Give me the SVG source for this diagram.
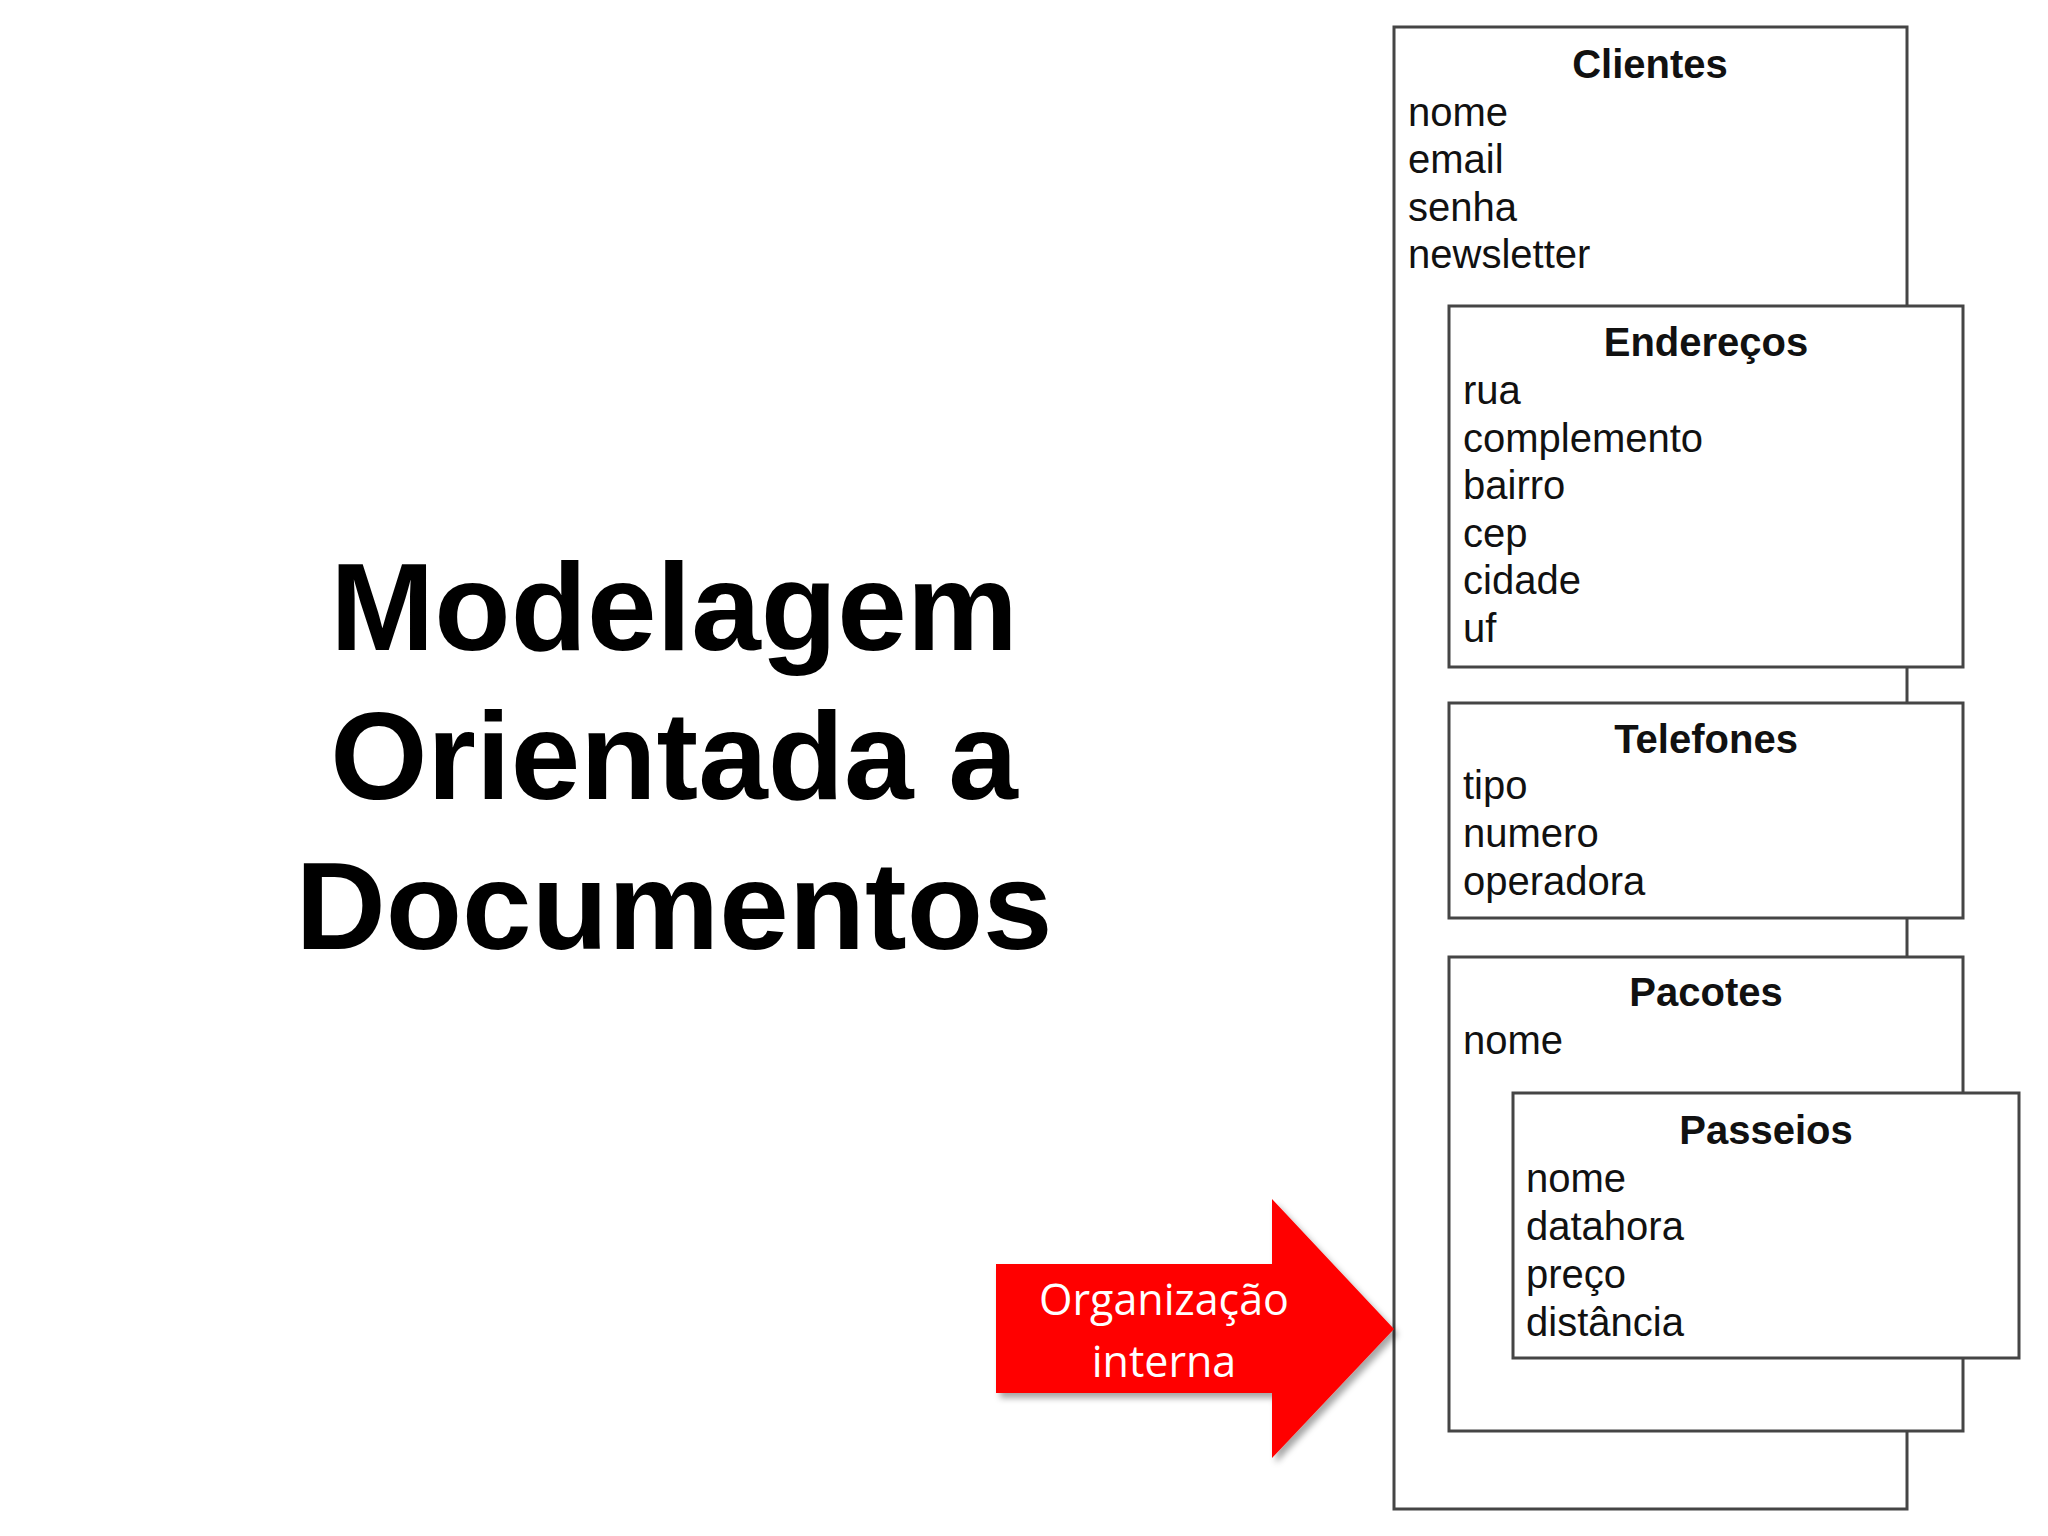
<svg xmlns="http://www.w3.org/2000/svg" width="2048" height="1536" viewBox="0 0 2048 1536">
<defs>
<style>
.box{fill:#ffffff;stroke:#454545;stroke-width:3}
.ttl{font-family:"Liberation Sans",Arial,sans-serif;font-weight:bold;font-size:40px;fill:#111;text-anchor:middle}
.att{font-family:"Liberation Sans",Arial,sans-serif;font-size:40px;fill:#111}
.big{font-family:"Liberation Sans",Arial,sans-serif;font-weight:bold;font-size:125px;fill:#000;text-anchor:middle}
.lbl{font-family:"Open Sans","Liberation Sans",sans-serif;font-size:43px;fill:#ffffff;text-anchor:middle}
</style>
<filter id="shadow" x="-10%" y="-10%" width="125%" height="125%">
<feDropShadow dx="4" dy="5" stdDeviation="3" flood-color="#000" flood-opacity="0.35"/>
</filter>
</defs>
<rect width="2048" height="1536" fill="#ffffff"/>

<g id="title">
<text class="big" x="674" y="650">Modelagem</text>
<text class="big" x="674" y="799">Orientada a</text>
<text class="big" x="674" y="949">Documentos</text>
</g>

<g id="clientes">
<rect class="box" x="1394" y="27" width="513" height="1482"/>
<text class="ttl" x="1650" y="78">Clientes</text>
<text class="att" x="1408" y="126">nome</text>
<text class="att" x="1408" y="173">email</text>
<text class="att" x="1408" y="221">senha</text>
<text class="att" x="1408" y="268">newsletter</text>
</g>

<g id="enderecos">
<rect class="box" x="1449" y="306" width="514" height="361"/>
<text class="ttl" x="1706" y="356">Endereços</text>
<text class="att" x="1463" y="404">rua</text>
<text class="att" x="1463" y="452">complemento</text>
<text class="att" x="1463" y="499">bairro</text>
<text class="att" x="1463" y="547">cep</text>
<text class="att" x="1463" y="594">cidade</text>
<text class="att" x="1463" y="642">uf</text>
</g>

<g id="telefones">
<rect class="box" x="1449" y="703" width="514" height="215"/>
<text class="ttl" x="1706" y="753">Telefones</text>
<text class="att" x="1463" y="799">tipo</text>
<text class="att" x="1463" y="847">numero</text>
<text class="att" x="1463" y="895">operadora</text>
</g>

<g id="pacotes">
<rect class="box" x="1449" y="957" width="514" height="474"/>
<text class="ttl" x="1706" y="1006">Pacotes</text>
<text class="att" x="1463" y="1054">nome</text>
</g>

<g id="passeios">
<rect class="box" x="1513" y="1093" width="506" height="265"/>
<text class="ttl" x="1766" y="1144">Passeios</text>
<text class="att" x="1526" y="1192">nome</text>
<text class="att" x="1526" y="1240">datahora</text>
<text class="att" x="1526" y="1288">preço</text>
<text class="att" x="1526" y="1336">distância</text>
</g>

<g id="callout">
<polygon points="996,1264 1272,1264 1272,1199 1394,1329 1272,1458 1272,1393 996,1393" fill="#ff0000" filter="url(#shadow)"/>
<text class="lbl" x="1164" y="1315">Organização</text>
<text class="lbl" x="1164" y="1377">interna</text>
</g>
</svg>
